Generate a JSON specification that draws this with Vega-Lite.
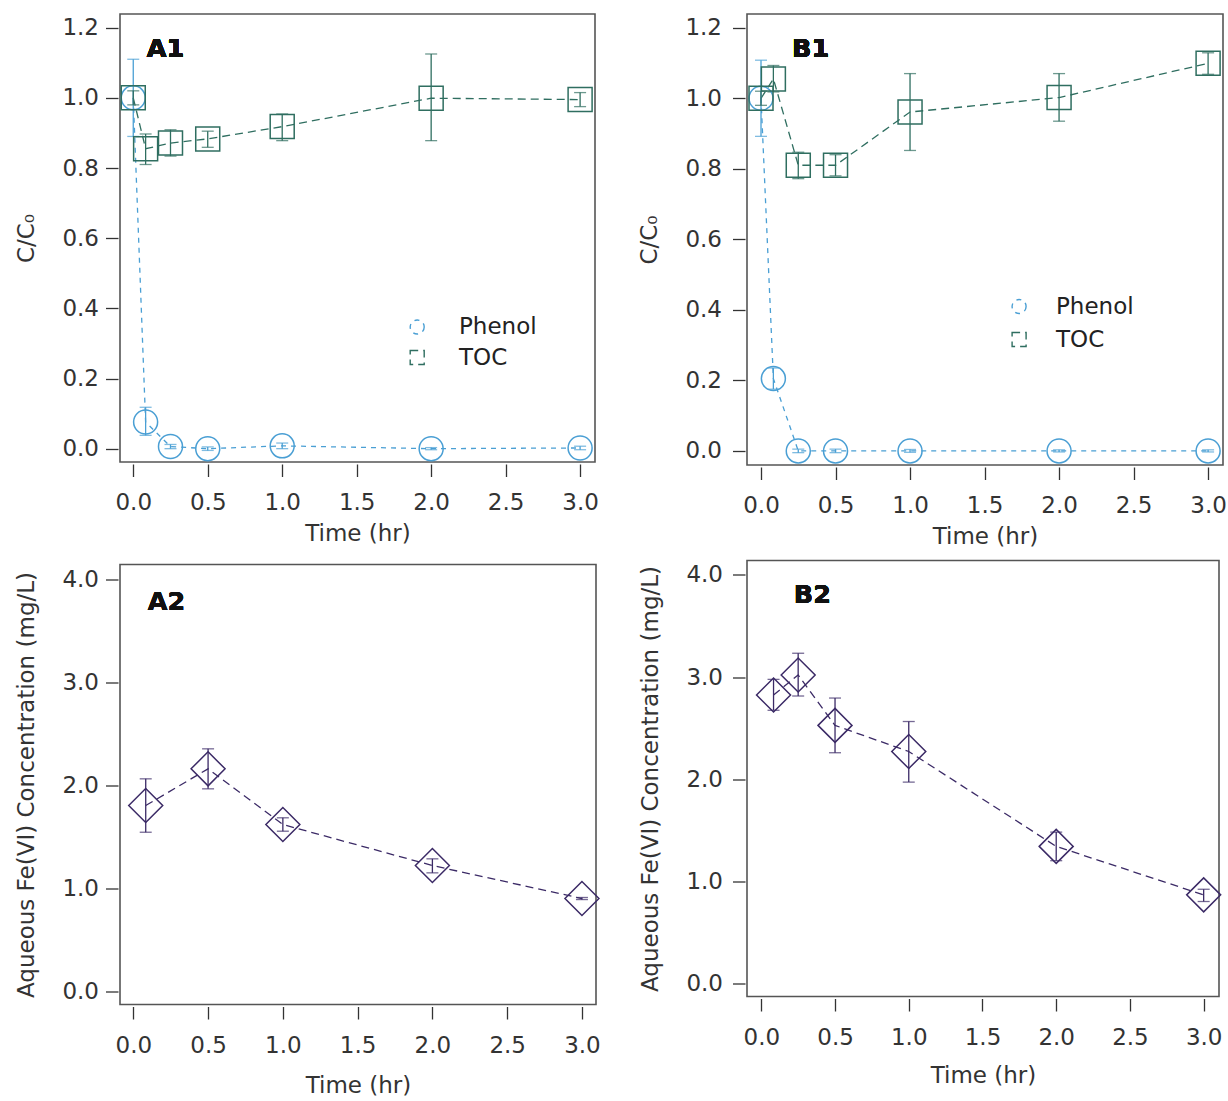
{
  "$schema": "https://vega.github.io/schema/vega-lite/v6.json",
  "padding": {"left": 15, "top": 13, "right": 0, "bottom": 0},
  "background": "white",
  "datasets": {
    "a1": [
      {"t": 0, "series": "Phenol", "y": 1.0, "lo": 0.89, "hi": 1.11},
      {"t": 0.083, "series": "Phenol", "y": 0.076, "lo": 0.038, "hi": 0.118},
      {"t": 0.25, "series": "Phenol", "y": 0.006, "lo": 0.0, "hi": 0.012},
      {"t": 0.5, "series": "Phenol", "y": 0.0, "lo": -0.005, "hi": 0.005},
      {"t": 1.0, "series": "Phenol", "y": 0.008, "lo": 0.0, "hi": 0.016},
      {"t": 2.0, "series": "Phenol", "y": 0.0, "lo": -0.003, "hi": 0.003},
      {"t": 3.0, "series": "Phenol", "y": 0.002, "lo": -0.003, "hi": 0.007},
      {"t": 0, "series": "TOC", "y": 1.0, "lo": 0.98, "hi": 1.02},
      {"t": 0.083, "series": "TOC", "y": 0.855, "lo": 0.81, "hi": 0.897},
      {"t": 0.25, "series": "TOC", "y": 0.871, "lo": 0.834, "hi": 0.909},
      {"t": 0.5, "series": "TOC", "y": 0.883, "lo": 0.859, "hi": 0.905},
      {"t": 1.0, "series": "TOC", "y": 0.918, "lo": 0.878, "hi": 0.954},
      {"t": 2.0, "series": "TOC", "y": 0.999, "lo": 0.878, "hi": 1.125},
      {"t": 3.0, "series": "TOC", "y": 0.995, "lo": 0.975, "hi": 1.015}
    ],
    "b1": [
      {"t": 0, "series": "Phenol", "y": 1.0, "lo": 0.892, "hi": 1.108},
      {"t": 0.083, "series": "Phenol", "y": 0.205, "lo": 0.175, "hi": 0.235},
      {"t": 0.25, "series": "Phenol", "y": 0.0, "lo": -0.005, "hi": 0.005},
      {"t": 0.5, "series": "Phenol", "y": 0.0, "lo": -0.005, "hi": 0.005},
      {"t": 1.0, "series": "Phenol", "y": 0.0, "lo": -0.004, "hi": 0.004},
      {"t": 2.0, "series": "Phenol", "y": 0.0, "lo": -0.003, "hi": 0.003},
      {"t": 3.0, "series": "Phenol", "y": 0.0, "lo": -0.003, "hi": 0.003},
      {"t": 0, "series": "TOC", "y": 1.0, "lo": 0.98, "hi": 1.02},
      {"t": 0.083, "series": "TOC", "y": 1.055, "lo": 1.018, "hi": 1.093},
      {"t": 0.25, "series": "TOC", "y": 0.81, "lo": 0.772, "hi": 0.847},
      {"t": 0.5, "series": "TOC", "y": 0.81, "lo": 0.78, "hi": 0.84},
      {"t": 1.0, "series": "TOC", "y": 0.961, "lo": 0.852, "hi": 1.07},
      {"t": 2.0, "series": "TOC", "y": 1.002, "lo": 0.935, "hi": 1.07},
      {"t": 3.0, "series": "TOC", "y": 1.099, "lo": 1.068, "hi": 1.129}
    ],
    "a2": [
      {"t": 0.083, "y": 1.807, "lo": 1.548, "hi": 2.066},
      {"t": 0.5, "y": 2.163, "lo": 1.969, "hi": 2.357},
      {"t": 1.0, "y": 1.623, "lo": 1.558, "hi": 1.688},
      {"t": 2.0, "y": 1.225, "lo": 1.154, "hi": 1.29},
      {"t": 3.0, "y": 0.905, "lo": 0.895, "hi": 0.915}
    ],
    "b2": [
      {"t": 0.083, "y": 2.824, "lo": 2.674, "hi": 2.977},
      {"t": 0.25, "y": 3.02, "lo": 2.814, "hi": 3.233},
      {"t": 0.5, "y": 2.526, "lo": 2.258, "hi": 2.794},
      {"t": 1.0, "y": 2.27, "lo": 1.97, "hi": 2.564},
      {"t": 2.0, "y": 1.34, "lo": 1.2, "hi": 1.48},
      {"t": 3.0, "y": 0.865, "lo": 0.8, "hi": 0.92}
    ]
  },
  "resolve": {"scale": {"color": "independent", "shape": "independent", "strokeDash": "independent"}, "legend": {"color": "independent"}},
  "hconcat": [
    {
      "spacing": 17.5,
      "resolve": {"scale": {"color": "independent", "shape": "independent", "strokeDash": "independent"}, "legend": {"color": "independent"}},
      "vconcat": [
        {
          "width": 475,
          "height": 448,
          "data": {"name": "a1"},
          "encoding": {
            "x": {"field": "t", "type": "quantitative", "title": "Time (hr)",
              "scale": {"domain": [-0.089, 3.1], "nice": false, "zero": false},
              "axis": {"values": [0, 0.5, 1, 1.5, 2, 2.5, 3], "format": ".1f"}},
            "y": {"field": "y", "type": "quantitative", "title": "C/C₀",
              "scale": {"domain": [-0.038, 1.239], "nice": false, "zero": false},
              "axis": {"values": [0, 0.2, 0.4, 0.6, 0.8, 1.0, 1.2], "format": ".1f"}}
          },
          "layer": [
            {
              "mark": {"type": "line", "strokeWidth": 1.3},
              "encoding": {
                "color": {
                  "field": "series", "type": "nominal",
                  "scale": {"domain": ["Phenol", "TOC"], "range": ["#4a9fd4", "#2f6e60"]},
                  "legend": {
                    "title": null, "orient": "none", "legendX": 263.7, "legendY": 301.5,
                    "symbolSize": 196, "symbolStrokeWidth": 1.4, "symbolOffset": 22, "labelOffset": 30.3,
                    "symbolDash": [1, 0],
                    "labelFontSize": 23, "labelFont": "DejaVu Sans", "labelColor": "#222", "rowPadding": 6.5, "padding": 0,
                    "encode": {
                      "symbols": {
                        "update": {
                          "shape": {"signal": "datum.value == 'Phenol' ? 'M1,0 A1,1 0 1,1 -1,0 A1,1 0 1,1 1,0 M-3.5,0 H-2.8 M2.8,0 H3.5 M0.1,0 H0.6' : 'M-1,-1 H1 V1 H-1 Z M-3.5,0 H-2.8 M-1,0 H-0.2 M0.4,0 H1.5 M2.8,0 H3.5'"},
                          "fill": {"value": "transparent"},
                          "stroke": {"signal": "datum.value == 'Phenol' ? '#4a9fd4' : '#2f6e60'"},
                          "strokeWidth": {"value": 1.4},
                          "strokeDash": {"value": []},
                          "opacity": {"value": 1},
                          "fillOpacity": {"value": 0},
                          "strokeOpacity": {"value": 1}
                        }
                      }
                    }
                  }
                },
                "strokeDash": {"field": "series", "type": "nominal", "legend": null,
                  "scale": {"domain": ["Phenol", "TOC"], "range": [[5, 5], [8, 5]]}},
                "order": {"field": "t"}
              }
            },
            {
              "mark": {"type": "rule", "strokeWidth": 1.3},
              "encoding": {
                "y": {"field": "lo", "type": "quantitative"},
                "y2": {"field": "hi"},
                "color": {"field": "series", "type": "nominal"}
              }
            },
            {
              "mark": {"type": "tick", "orient": "horizontal", "size": 12, "thickness": 1.3},
              "encoding": {
                "y": {"field": "lo", "type": "quantitative"},
                "color": {"field": "series", "type": "nominal"}
              }
            },
            {
              "mark": {"type": "tick", "orient": "horizontal", "size": 12, "thickness": 1.3},
              "encoding": {
                "y": {"field": "hi", "type": "quantitative"},
                "color": {"field": "series", "type": "nominal"}
              }
            },
            {
              "mark": {"type": "point", "filled": false, "strokeWidth": 1.5, "size": 576, "opacity": 1},
              "encoding": {
                "shape": {"field": "series", "type": "nominal", "legend": null,
                  "scale": {"domain": ["Phenol", "TOC"], "range": ["circle", "square"]}},
                "color": {"field": "series", "type": "nominal"}
              }
            },
            {
              "mark": {"type": "text", "text": "A1", "align": "left", "baseline": "alphabetic", "font": "DejaVu Sans", "fontWeight": "bold", "fontSize": 25.5, "color": "#111"},
              "encoding": {"x": {"datum": 0.09}, "y": {"datum": 1.116}}
            }
          ]
        },
        {
          "width": 476,
          "height": 440,
          "data": {"name": "a2"},
          "encoding": {
            "x": {"field": "t", "type": "quantitative", "title": "Time (hr)",
              "scale": {"domain": [-0.089, 3.094], "nice": false, "zero": false},
              "axis": {"values": [0, 0.5, 1, 1.5, 2, 2.5, 3], "format": ".1f", "titlePadding": 17}},
            "y": {"field": "y", "type": "quantitative", "title": "Aqueous Fe(VI) Concentration (mg/L)",
              "scale": {"domain": [-0.123, 4.145], "nice": false, "zero": false},
              "axis": {"values": [0, 1, 2, 3, 4], "format": ".1f"}}
          },
          "layer": [
            {"mark": {"type": "line", "strokeWidth": 1.3, "strokeDash": [8, 5], "color": "#3b2a66"}, "encoding": {"order": {"field": "t"}}},
            {"mark": {"type": "rule", "strokeWidth": 1.3, "color": "#3b2a66"}, "encoding": {"y": {"field": "lo", "type": "quantitative"}, "y2": {"field": "hi"}}},
            {"mark": {"type": "tick", "orient": "horizontal", "size": 12, "thickness": 1.3, "color": "#3b2a66"}, "encoding": {"y": {"field": "lo", "type": "quantitative"}}},
            {"mark": {"type": "tick", "orient": "horizontal", "size": 12, "thickness": 1.3, "color": "#3b2a66"}, "encoding": {"y": {"field": "hi", "type": "quantitative"}}},
            {"mark": {"type": "point", "shape": "diamond", "filled": false, "strokeWidth": 1.5, "size": 1156, "color": "#3b2a66", "opacity": 1}},
            {
              "mark": {"type": "text", "text": "A2", "align": "left", "baseline": "alphabetic", "font": "DejaVu Sans", "fontWeight": "bold", "fontSize": 25.5, "color": "#111"},
              "encoding": {"x": {"datum": 0.096}, "y": {"datum": 3.708}}
            }
          ]
        }
      ]
    },
    {
      "spacing": 10.5,
      "resolve": {"scale": {"color": "independent", "shape": "independent", "strokeDash": "independent"}, "legend": {"color": "independent"}},
      "vconcat": [
        {
          "width": 476,
          "height": 451,
          "data": {"name": "b1"},
          "encoding": {
            "x": {"field": "t", "type": "quantitative", "title": "Time (hr)",
              "scale": {"domain": [-0.094, 3.1], "nice": false, "zero": false},
              "axis": {"values": [0, 0.5, 1, 1.5, 2, 2.5, 3], "format": ".1f"}},
            "y": {"field": "y", "type": "quantitative", "title": "C/C₀",
              "scale": {"domain": [-0.04, 1.239], "nice": false, "zero": false},
              "axis": {"values": [0, 0.2, 0.4, 0.6, 0.8, 1.0, 1.2], "format": ".1f", "labelPadding": 11}}
          },
          "layer": [
            {
              "mark": {"type": "line", "strokeWidth": 1.3},
              "encoding": {
                "color": {
                  "field": "series", "type": "nominal",
                  "scale": {"domain": ["Phenol", "TOC"], "range": ["#4a9fd4", "#2f6e60"]},
                  "legend": {
                    "title": null, "orient": "none", "legendX": 238.6, "legendY": 281,
                    "symbolSize": 196, "symbolStrokeWidth": 1.4, "symbolOffset": 22, "labelOffset": 25.4,
                    "symbolDash": [1, 0],
                    "labelFontSize": 23, "labelFont": "DejaVu Sans", "labelColor": "#222", "rowPadding": 9, "padding": 0,
                    "encode": {
                      "symbols": {
                        "update": {
                          "shape": {"signal": "datum.value == 'Phenol' ? 'M1,0 A1,1 0 1,1 -1,0 A1,1 0 1,1 1,0 M-3.5,0 H-2.8 M2.8,0 H3.5 M0.1,0 H0.6' : 'M-1,-1 H1 V1 H-1 Z M-3.5,0 H-2.8 M-1,0 H-0.2 M0.4,0 H1.5 M2.8,0 H3.5'"},
                          "fill": {"value": "transparent"},
                          "stroke": {"signal": "datum.value == 'Phenol' ? '#4a9fd4' : '#2f6e60'"},
                          "strokeWidth": {"value": 1.4},
                          "strokeDash": {"value": []},
                          "opacity": {"value": 1},
                          "fillOpacity": {"value": 0},
                          "strokeOpacity": {"value": 1}
                        }
                      }
                    }
                  }
                },
                "strokeDash": {"field": "series", "type": "nominal", "legend": null,
                  "scale": {"domain": ["Phenol", "TOC"], "range": [[5, 5], [8, 5]]}},
                "order": {"field": "t"}
              }
            },
            {
              "mark": {"type": "rule", "strokeWidth": 1.3},
              "encoding": {
                "y": {"field": "lo", "type": "quantitative"},
                "y2": {"field": "hi"},
                "color": {"field": "series", "type": "nominal"}
              }
            },
            {
              "mark": {"type": "tick", "orient": "horizontal", "size": 12, "thickness": 1.3},
              "encoding": {
                "y": {"field": "lo", "type": "quantitative"},
                "color": {"field": "series", "type": "nominal"}
              }
            },
            {
              "mark": {"type": "tick", "orient": "horizontal", "size": 12, "thickness": 1.3},
              "encoding": {
                "y": {"field": "hi", "type": "quantitative"},
                "color": {"field": "series", "type": "nominal"}
              }
            },
            {
              "mark": {"type": "point", "filled": false, "strokeWidth": 1.5, "size": 576, "opacity": 1},
              "encoding": {
                "shape": {"field": "series", "type": "nominal", "legend": null,
                  "scale": {"domain": ["Phenol", "TOC"], "range": ["circle", "square"]}},
                "color": {"field": "series", "type": "nominal"}
              }
            },
            {
              "mark": {"type": "text", "text": "B1", "align": "left", "baseline": "alphabetic", "font": "DejaVu Sans", "fontWeight": "bold", "fontSize": 25.5, "color": "#111"},
              "encoding": {"x": {"datum": 0.208}, "y": {"datum": 1.117}}
            }
          ]
        },
        {
          "width": 472,
          "height": 436,
          "data": {"name": "b2"},
          "encoding": {
            "x": {"field": "t", "type": "quantitative", "title": "Time (hr)",
              "scale": {"domain": [-0.097, 3.104], "nice": false, "zero": false},
              "axis": {"values": [0, 0.5, 1, 1.5, 2, 2.5, 3], "format": ".1f", "titlePadding": 15}},
            "y": {"field": "y", "type": "quantitative", "title": "Aqueous Fe(VI) Concentration (mg/L)",
              "scale": {"domain": [-0.131, 4.142], "nice": false, "zero": false},
              "axis": {"values": [0, 1, 2, 3, 4], "format": ".1f", "labelPadding": 10}}
          },
          "layer": [
            {"mark": {"type": "line", "strokeWidth": 1.3, "strokeDash": [8, 5], "color": "#3b2a66"}, "encoding": {"order": {"field": "t"}}},
            {"mark": {"type": "rule", "strokeWidth": 1.3, "color": "#3b2a66"}, "encoding": {"y": {"field": "lo", "type": "quantitative"}, "y2": {"field": "hi"}}},
            {"mark": {"type": "tick", "orient": "horizontal", "size": 12, "thickness": 1.3, "color": "#3b2a66"}, "encoding": {"y": {"field": "lo", "type": "quantitative"}}},
            {"mark": {"type": "tick", "orient": "horizontal", "size": 12, "thickness": 1.3, "color": "#3b2a66"}, "encoding": {"y": {"field": "hi", "type": "quantitative"}}},
            {"mark": {"type": "point", "shape": "diamond", "filled": false, "strokeWidth": 1.5, "size": 1156, "color": "#3b2a66", "opacity": 1}},
            {
              "mark": {"type": "text", "text": "B2", "align": "left", "baseline": "alphabetic", "font": "DejaVu Sans", "fontWeight": "bold", "fontSize": 25.5, "color": "#111"},
              "encoding": {"x": {"datum": 0.22}, "y": {"datum": 3.722}}
            }
          ]
        }
      ]
    }
  ],
  "spacing": 35,
  "config": {
    "font": "DejaVu Sans",
    "view": {"stroke": "#555", "strokeWidth": 1.6},
    "axis": {"grid": false, "domain": false, "offset": 2, "tickSize": 12.5, "tickColor": "#333", "tickWidth": 1.3,
      "labelFont": "DejaVu Sans", "labelFontSize": 23, "labelColor": "#333", "labelFlush": false,
      "titleFont": "DejaVu Sans", "titleFontSize": 23, "titleFontWeight": "normal", "titleColor": "#333"},
    "axisX": {"labelPadding": 15, "titlePadding": 7.5},
    "axisY": {"labelPadding": 7, "titlePadding": 23}
  }
}
